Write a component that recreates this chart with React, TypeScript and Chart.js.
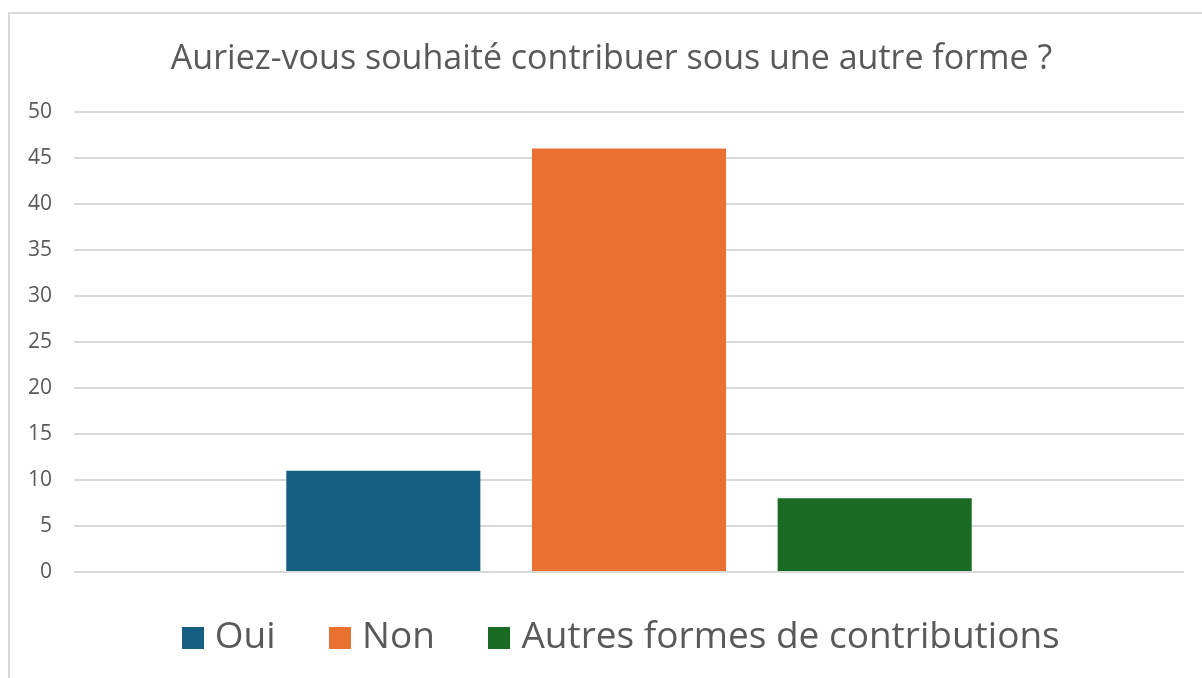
import React, { useEffect, useRef } from "react";
import { Chart, registerables } from "chart.js";

Chart.register(...registerables);

const title = "Auriez-vous souhaité contribuer sous une autre forme ?";
const categories = [""];
const seriesNames = ["Oui", "Non", "Autres formes de contributions"];
const seriesValues = [[11], [46], [8]];
const seriesColors = ["#156082", "#E97132", "#196B24"];
const yTicks = [0, 5, 10, 15, 20, 25, 30, 35, 40, 45, 50];

const FONT = "'Open Sans', 'DejaVu Sans', sans-serif";
const TEXT = "#595959";
const GRID = "#d9d9d9";

function makeSwatch(color: string): HTMLCanvasElement {
  const c = document.createElement("canvas");
  c.width = 22;
  c.height = 22;
  const g = c.getContext("2d")!;
  g.fillStyle = color;
  g.fillRect(0, 0, 22, 22);
  return c;
}

// shift title and legend boxes so they sit like the reference
const shiftBoxes = {
  id: "shiftBoxes",
  afterLayout(chart: any) {
    if (chart.titleBlock) chart.titleBlock.left = 39;
    if (chart.legend) {
      chart.legend.left = 65;
      chart.legend.top = 558;
    }
  },
};

export default function App() {
  const ref = useRef<HTMLCanvasElement | null>(null);
  useEffect(() => {
    document.body.style.overflow = "hidden";
    const ctx = ref.current!;
    const swatches = seriesColors.map(makeSwatch);
    const chart = new Chart(ctx, {
      type: "bar",
      data: {
        labels: categories,
        datasets: seriesNames.map((name, i) => ({
          label: name,
          data: seriesValues[i],
          backgroundColor: seriesColors[i],
          borderWidth: 0,
          categoryPercentage: 0.664,
          barPercentage: 0.79,
        })),
      },
      plugins: [shiftBoxes],
      options: {
        responsive: false,
        animation: false,
        layout: { padding: { left: 0, right: 18, top: 0, bottom: 12 } },
        plugins: {
          title: {
            display: true,
            text: title,
            color: TEXT,
            font: { family: FONT, size: 34, weight: "normal" },
            padding: { top: 39, bottom: 32 },
          },
          legend: {
            position: "bottom",
            maxHeight: 94,
            labels: {
              color: TEXT,
              font: { family: FONT, size: 37 },
              usePointStyle: true,
              boxWidth: 7,
              boxHeight: 22,
              padding: 61,
              generateLabels: (c: any) =>
                Chart.defaults.plugins.legend.labels
                  .generateLabels(c)
                  .map((item: any, i: number) => ({
                    ...item,
                    pointStyle: swatches[i],
                    lineWidth: 0,
                  })),
            },
          },
          tooltip: { enabled: false },
        },
        scales: {
          x: {
            grid: { display: false },
            border: { display: false },
            ticks: { display: false },
            afterFit: (s: any) => {
              s.height = 0;
            },
          },
          y: {
            min: 0,
            max: 50,
            afterBuildTicks: (s: any) => {
              s.ticks = yTicks.map((v) => ({ value: v }));
            },
            grid: { color: GRID, lineWidth: 2, drawTicks: false },
            border: { display: false },
            ticks: {
              color: TEXT,
              font: { family: FONT, size: 21 },
              padding: 22,
            },
            afterFit: (s: any) => {
              s.width = 74;
            },
          },
        },
      },
    });
    return () => chart.destroy();
  }, []);
  return (
    <>
      <div
        style={{
          position: "fixed",
          left: 8,
          top: 12,
          width: 1400,
          height: 900,
          border: "2px solid #d9d9d9",
          background: "#fff",
        }}
      />
      <canvas
        ref={ref}
        width={1202}
        height={678}
        style={{ position: "fixed", left: 0, top: 0, width: 1202, height: 678 }}
      />
    </>
  );
}
